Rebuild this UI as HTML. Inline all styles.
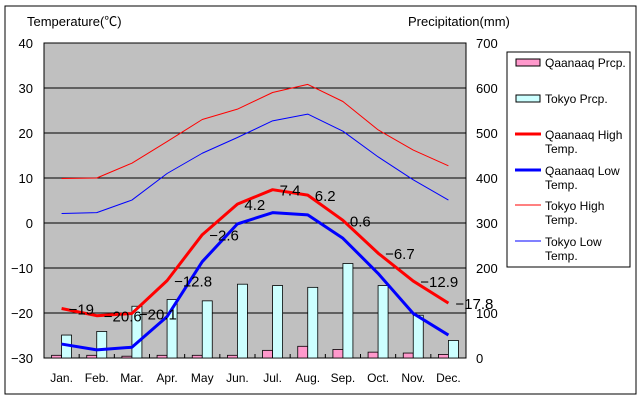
<!DOCTYPE html>
<html><head><meta charset="utf-8"><style>
body{margin:0;background:#fff;}
svg{display:block;font-family:"Liberation Sans","Noto Sans CJK JP",sans-serif;}
</style></head><body>
<svg id="chart" width="640" height="400">
<rect x="5" y="6" width="631" height="388" fill="#fff" stroke="#000" stroke-width="1"/>
<rect x="44" y="43" width="422" height="315" fill="#c0c0c0" stroke="#000"/>
<g id="grid"></g><g id="bars"></g><g id="lines"></g><g id="labels"></g><g id="axes"></g>
<text x="27" y="26" font-size="13">Temperature(℃)</text>
<text x="408" y="26" font-size="13">Precipitation(mm)</text>
<g>
<rect x="507" y="52" width="123" height="215" fill="#fff" stroke="#000"/>
<rect x="516" y="59" width="24" height="7" fill="#ff99cc" stroke="#000"/>
<text x="545" y="67" font-size="12">Qaanaaq Prcp.</text>
<rect x="516" y="95" width="24" height="7" fill="#ccffff" stroke="#000"/>
<text x="545" y="103" font-size="12">Tokyo Prcp.</text>
<line x1="515" y1="134" x2="541" y2="134" stroke="#ff0000" stroke-width="3"/>
<text x="545" y="139" font-size="12"><tspan x="545">Qaanaaq High</tspan><tspan x="545" dy="14">Temp.</tspan></text>
<line x1="515" y1="170" x2="541" y2="170" stroke="#0000ff" stroke-width="3"/>
<text x="545" y="175" font-size="12"><tspan x="545">Qaanaaq Low</tspan><tspan x="545" dy="14">Temp.</tspan></text>
<line x1="515" y1="205" x2="541" y2="205" stroke="#ff0000" stroke-width="1"/>
<text x="545" y="210" font-size="12"><tspan x="545">Tokyo High</tspan><tspan x="545" dy="14">Temp.</tspan></text>
<line x1="515" y1="241" x2="541" y2="241" stroke="#0000ff" stroke-width="1"/>
<text x="545" y="246" font-size="12"><tspan x="545">Tokyo Low</tspan><tspan x="545" dy="14">Temp.</tspan></text>
</g>
</svg>
<script>
const months=["Jan.","Feb.","Mar.","Apr.","May","Jun.","Jul.","Aug.","Sep.","Oct.","Nov.","Dec."];
const qaanaaqPrcp=[6,6,4,6,6,6,17,26,19,13,11,8];
const tokyoPrcp=[51,59,115,130,127,164,161,157,210,161,95,39];
const qaanaaqHigh=[-19,-20.6,-20.1,-12.8,-2.6,4.2,7.4,6.2,0.6,-6.7,-12.9,-17.8];
const qaanaaqLow=[-26.9,-28.2,-27.6,-20.8,-8.6,-0.2,2.3,1.8,-3.4,-11.2,-20.1,-24.9];
const tokyoHigh=[9.9,10,13.3,18.1,23,25.3,29,30.8,27,20.7,16.2,12.7];
const tokyoLow=[2.1,2.3,5.1,11,15.5,19,22.7,24.2,20.4,14.7,9.6,5.1];
const tempTicks=[40,30,20,10,0,-10,-20,-30];
const prcpTicks=[700,600,500,400,300,200,100,0];
const NS="http://www.w3.org/2000/svg";
const X0=44,X1=466,Y0=43,Y1=358,slot=(X1-X0)/12;
const xc=i=>X0+slot*(i+0.5);
const yT=t=>Y0+(40-t)*(Y1-Y0)/70;
const yP=p=>Y1-p*(Y1-Y0)/700;
function mk(tag,attrs,parent){const e=document.createElementNS(NS,tag);for(const k in attrs)e.setAttribute(k,attrs[k]);document.getElementById(parent).appendChild(e);return e;}
const fmt=v=>(v<0?"\u2212"+(-v):""+v);
tempTicks.forEach(t=>{
 if(t<40&&t>-30){const l=mk("line",{x1:X0,x2:X1,y1:yT(t),y2:yT(t),stroke:"#000"},"grid");
 
 }
 const tx=mk("text",{x:33,y:yT(t)+5,"font-size":13,"text-anchor":"end"},"axes");tx.textContent=fmt(t);
 
 
});
prcpTicks.forEach(p=>{
 const tx=mk("text",{x:476,y:yP(p)+5,"font-size":13},"axes");tx.textContent=p;
 
 
});
months.forEach((m,i)=>{
 const tx=mk("text",{x:xc(i),y:382,"font-size":12,"text-anchor":"middle"},"axes");tx.textContent=m;
 
 
 if(i>0){const tk=mk("line",{x1:X0+slot*i,x2:X0+slot*i,y1:Y1-4,y2:Y1,stroke:"#000"},"axes");
 
 }
 const b1=mk("rect",{x:xc(i)-10,y:yP(qaanaaqPrcp[i]),width:10,height:Y1-yP(qaanaaqPrcp[i]),fill:"#ff99cc",stroke:"#000","stroke-width":0.8},"bars");
 
 
 const b2=mk("rect",{x:xc(i),y:yP(tokyoPrcp[i]),width:10,height:Y1-yP(tokyoPrcp[i]),fill:"#ccffff",stroke:"#000","stroke-width":0.8},"bars");
 
 
});
function line(arr,color,w,name){
 const p=mk("polyline",{points:arr.map((v,i)=>xc(i)+","+yT(v)).join(" "),fill:"none",stroke:color,"stroke-width":w,"stroke-linejoin":"round"},"lines");
 
 
}
line(tokyoHigh,"#ff0000",1,"line-tokyo-high");
line(tokyoLow,"#0000ff",1,"line-tokyo-low");
line(qaanaaqLow,"#0000ff",3,"line-qaanaaq-low");
line(qaanaaqHigh,"#ff0000",3,"line-qaanaaq-high");
qaanaaqHigh.forEach((v,i)=>{
 const tx=mk("text",{x:xc(i)+7,y:yT(v)+6,"font-size":15},"labels");tx.textContent=fmt(v);
 
 
});
</script>
</body></html>
